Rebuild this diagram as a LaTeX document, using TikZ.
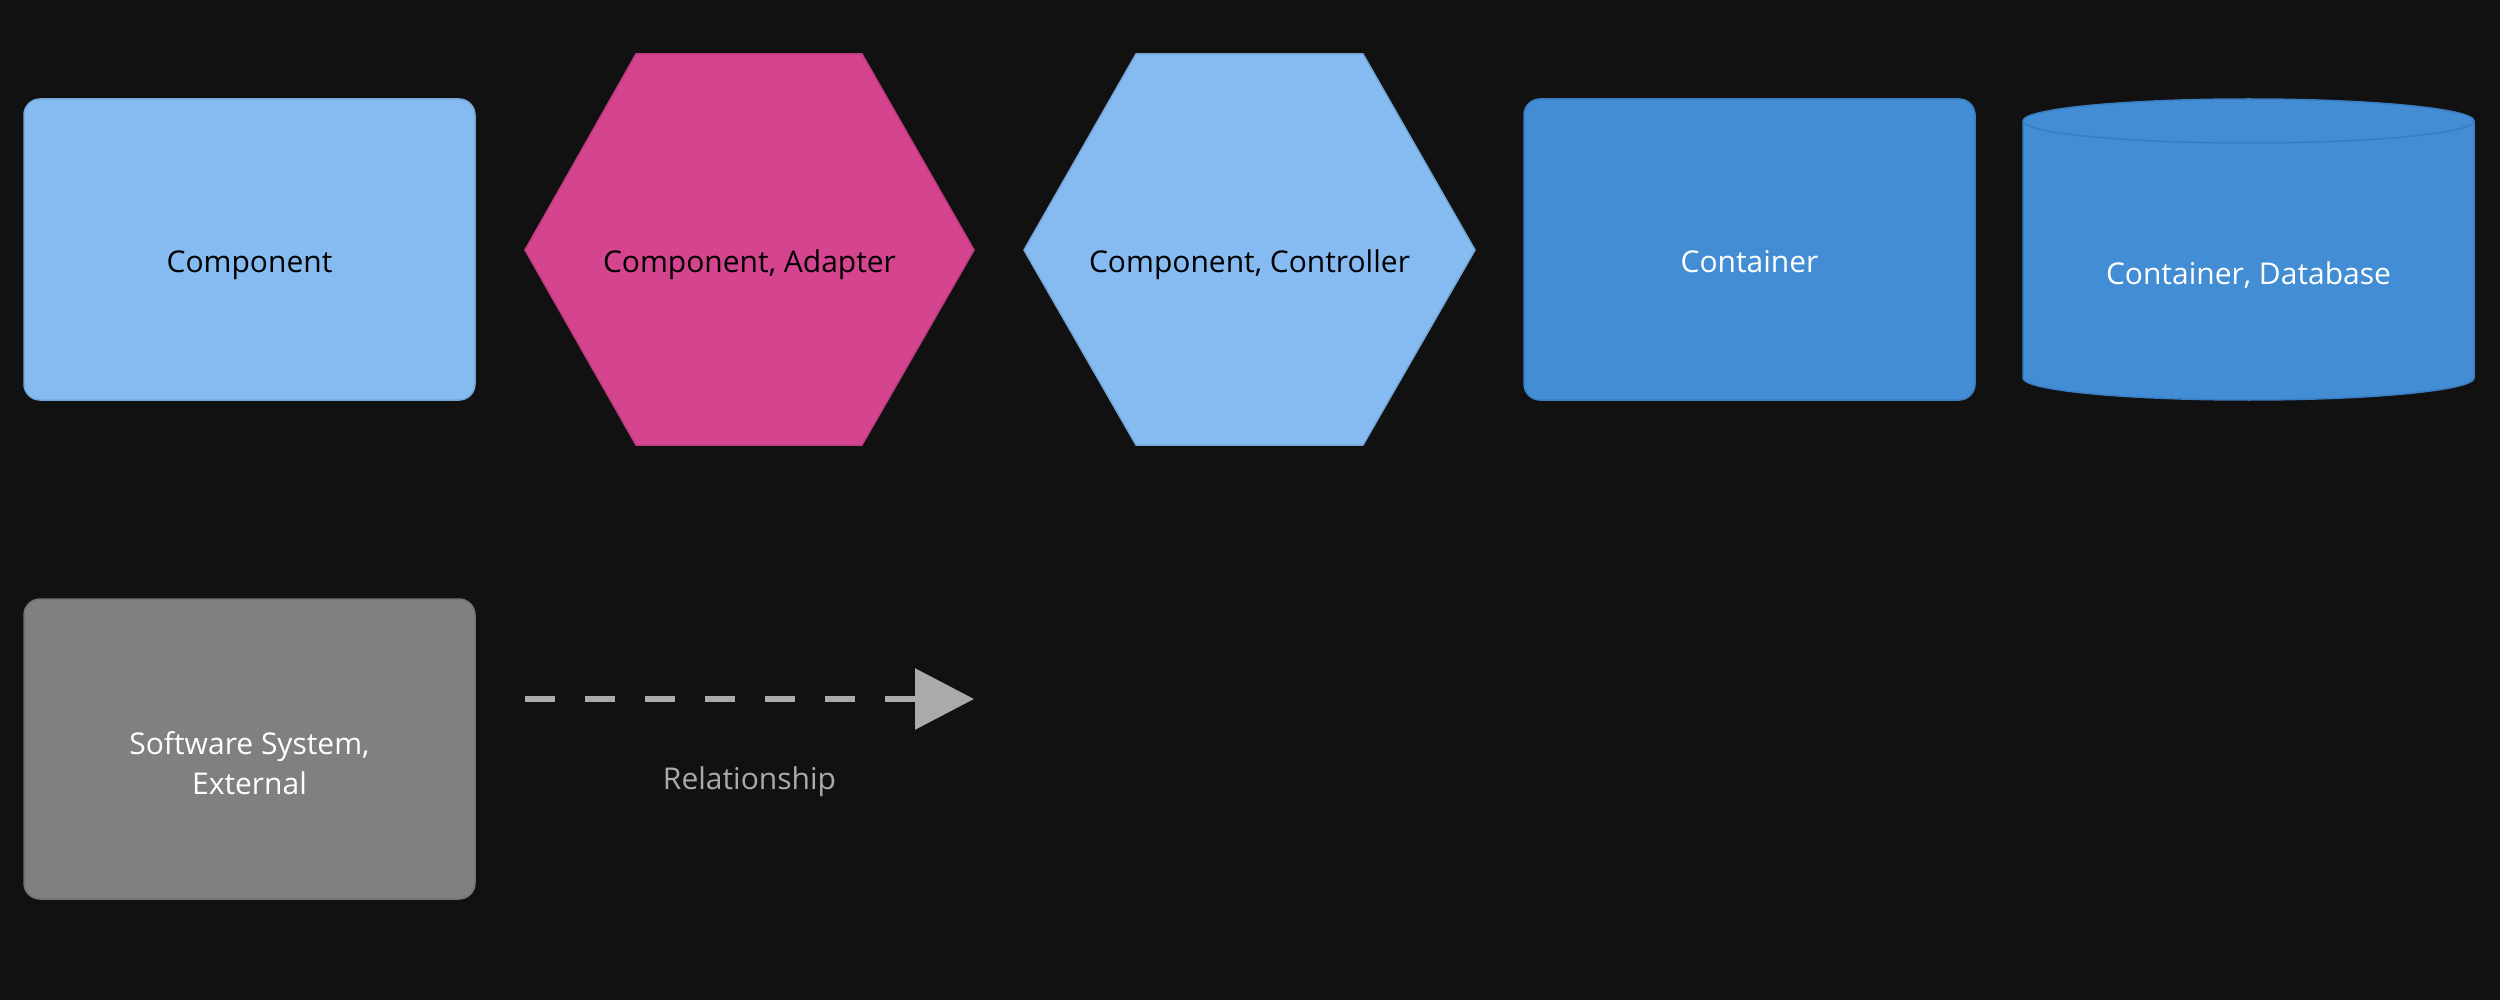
\documentclass[tikz,border=0pt]{standalone}
\usepackage{fontspec}
\setmainfont{Open Sans}
\usetikzlibrary{arrows.meta}
\definecolor{bgc}{HTML}{111111}
\definecolor{compc}{HTML}{85BBF0}
\definecolor{compl}{HTML}{74A6D8}
\definecolor{adapc}{HTML}{D5448F}
\definecolor{adapl}{HTML}{BF3B80}
\definecolor{contc}{HTML}{438DD5}
\definecolor{contl}{HTML}{3A7DC0}
\definecolor{extc}{HTML}{808080}
\definecolor{extl}{HTML}{737373}
\definecolor{relc}{HTML}{AAAAAA}
\begin{document}
\begin{tikzpicture}[x=1pt,y=-1pt,
  lbl/.style={font=\fontsize{30}{40}\selectfont, align=center, inner sep=0pt},
  blbl/.style={lbl, anchor=base},
  boxshape/.style={rounded corners=16pt, line width=1.5pt},
  hexshape/.style={line width=1.5pt, line join=miter},
  rel/.style={draw=relc, line width=6pt, dash pattern=on 30pt off 30pt,
    -{Triangle[length=59pt,width=60pt]}}]
\fill[bgc] (0,0) rectangle (2500,1000);
\useasboundingbox (0,0) rectangle (2500,1000);
% Component
\draw[boxshape, fill=compc, draw=compl] (24,99) rectangle (475,400);
\node[blbl, text=black] (component) at (249.5,273) {Component};
% Component, Adapter
\draw[hexshape, fill=adapc, draw=adapl] (525,250) -- (636,54) -- (862,54) -- (974,250) -- (862,445) -- (636,445) -- cycle;
\node[blbl, text=black] (adapter) at (749.5,273) {Component, Adapter};
% Component, Controller
\draw[hexshape, fill=compc, draw=compl] (1024,250) -- (1136,54) -- (1363,54) -- (1475,250) -- (1363,445) -- (1136,445) -- cycle;
\node[blbl, text=black] (controller) at (1249.5,273) {Component, Controller};
% Container
\draw[boxshape, fill=contc, draw=contl] (1524,99) rectangle (1975,400);
\node[blbl, text=white] (container) at (1749.5,273) {Container};
% Container, Database
\fill[contc] (2023,121) -- (2023,378) arc[start angle=180,end angle=0,x radius=225.5,y radius=22] -- (2474,121) arc[start angle=0,end angle=-180,x radius=225.5,y radius=22] -- cycle;
\draw[contl, line width=1.5pt] (2023,121) -- (2023,378) arc[start angle=180,end angle=0,x radius=225.5,y radius=22] -- (2474,121);
\draw[contl, line width=1.5pt] (2248.5,121) ellipse[x radius=225.5,y radius=22];
\node[blbl, text=white] (database) at (2248.5,284) {Container, Database};
% Software System, External
\draw[boxshape, fill=extc, draw=extl] (24,599) rectangle (475,899);
\node[lbl, text=white] (external) at (249.5,763) {Software System,\\External};
% Relationship
\coordinate (rs) at (525,699);
\coordinate (re) at (974,699);
\draw[rel] (rs) -- (re);
\node[blbl, text=relc] (rellabel) at (749.5,789) {Relationship};
\end{tikzpicture}
\end{document}
